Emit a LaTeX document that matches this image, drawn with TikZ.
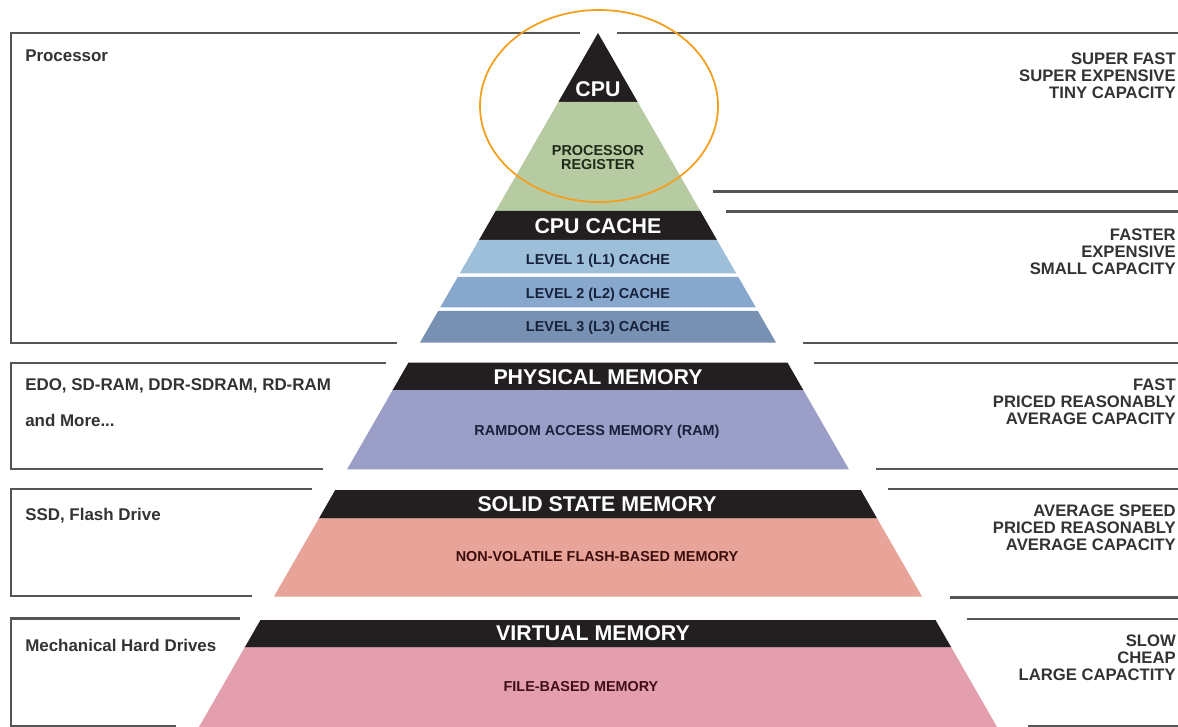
\documentclass[tikz,border=0pt]{standalone}
\usepackage{fontspec}
\setmainfont{Liberation Sans}

% palette of the memory hierarchy
\definecolor{bandblack}{HTML}{231F20}
\definecolor{regreen}{HTML}{B7CBA3}
\definecolor{lone}{HTML}{9EBFDA}
\definecolor{ltwo}{HTML}{87A7CC}
\definecolor{lthree}{HTML}{7890B2}
\definecolor{ramblue}{HTML}{9B9EC7}
\definecolor{ssdpink}{HTML}{E8A498}
\definecolor{vmpink}{HTML}{E49FAE}
\definecolor{linegray}{HTML}{555555}
\definecolor{sidegray}{HTML}{333333}
\definecolor{greentext}{HTML}{1C2B17}
\definecolor{navytext}{HTML}{16213B}
\definecolor{redtext}{HTML}{3B0D0D}
\definecolor{maroontext}{HTML}{3F0E18}
\definecolor{ringorange}{RGB}{245,158,27}

% one horizontal slice of the pyramid: top y, bottom y, fill colour
\newcommand{\pyrband}[3]{%
  \pgfmathsetmacro{\halfa}{0.575*(#1-33)}%
  \pgfmathsetmacro{\halfb}{0.575*(#2-33)}%
  \fill[#3] ({598-\halfa},#1) -- ({598+\halfa},#1) -- ({598+\halfb},#2) -- ({598-\halfb},#2) -- cycle;}

\begin{document}
\begin{tikzpicture}[x=0.75pt,y=-0.75pt,
  rule/.style={draw=linegray,line width=1.6pt},
  bandtitle/.style={text=white,font=\bfseries\fontsize{16}{18}\selectfont,inner sep=0pt,text depth=0pt},
  tiertext/.style={font=\bfseries\fontsize{10.8}{10.5}\selectfont,inner sep=0pt,text depth=0pt,align=center},
  sidenote/.style={text=sidegray,font=\bfseries\fontsize{12.7}{14}\selectfont,inner sep=0pt,anchor=west,text depth=0pt},
  traits/.style={text=sidegray,font=\bfseries\fontsize{12.5}{12.75}\selectfont,inner sep=0pt,anchor=east,align=right}]

\useasboundingbox (0,0) rectangle (1178,727);
\fill[white] (0,0) rectangle (1178,727);

% pyramid slices
\pyrband{33}{102.5}{bandblack}
\pyrband{102}{211.5}{regreen}
\pyrband{211}{240.5}{bandblack}
\pyrband{240}{273.5}{lone}
\pyrband{277}{307.5}{ltwo}
\pyrband{311}{342.7}{lthree}
\pyrband{362.7}{390.5}{bandblack}
\pyrband{390}{469.3}{ramblue}
\pyrband{490}{518.6}{bandblack}
\pyrband{518.3}{596.7}{ssdpink}
\pyrband{620}{647.6}{bandblack}
\pyrband{647.3}{730}{vmpink}

% bracket frames on the left
\draw[rule] (580,33) -- (11,33) -- (11,342.7) -- (397,342.7);
\draw[rule] (386,362.7) -- (11,362.7) -- (11,469.3) -- (323,469.3);
\draw[rule] (312,489.3) -- (11,489.3) -- (11,596) -- (252,596);
\draw[rule] (240,618.5) -- (11,618.5) -- (11,728);
\draw[rule] (11,726) -- (176,726);

% rules on the right
\draw[rule] (617,33) -- (1180,33);
\draw[rule] (713,191.5) -- (1180,191.5);
\draw[rule] (726,211.5) -- (1180,211.5);
\draw[rule] (803,342.7) -- (1180,342.7);
\draw[rule] (814,362.7) -- (1180,362.7);
\draw[rule] (876,469.3) -- (1180,469.3);
\draw[rule] (888,489.3) -- (1180,489.3);
\draw[rule] (950,597.5) -- (1180,597.5);
\draw[rule] (967,619.3) -- (1180,619.3);
\draw[rule] (1028,726) -- (1180,726);

% pyramid labels
\node[bandtitle] (cpu) at (598,89) {CPU};
\node[tiertext,text=greentext] (reg) at (598,157) {PROCESSOR\\REGISTER};
\node[bandtitle] (cache) at (598,226) {CPU CACHE};
\node[tiertext,text=navytext] (l1) at (598,259) {LEVEL 1 (L1) CACHE};
\node[tiertext,text=navytext] (l2) at (598,293) {LEVEL 2 (L2) CACHE};
\node[tiertext,text=navytext] (l3) at (598,326) {LEVEL 3 (L3) CACHE};
\node[bandtitle] (phys) at (598,377) {PHYSICAL MEMORY};
\node[tiertext,text=navytext] (ram) at (597,430) {RAMDOM ACCESS MEMORY (RAM)};
\node[bandtitle] (ssd) at (597,504) {SOLID STATE MEMORY};
\node[tiertext,text=redtext] (flash) at (597,556) {NON-VOLATILE FLASH-BASED MEMORY};
\node[bandtitle] (virt) at (593,633) {VIRTUAL MEMORY};
\node[tiertext,text=maroontext] (file) at (581,686) {FILE-BASED MEMORY};

% examples on the left
\node[sidenote] (proc) at (25,56) {Processor};
\node[sidenote] (edo) at (25,384.5) {EDO, SD-RAM, DDR-SDRAM, RD-RAM};
\node[sidenote] (more) at (25,420) {and More...};
\node[sidenote] (flashdrv) at (25,514) {SSD, Flash Drive};
\node[sidenote] (hdd) at (25,645.5) {Mechanical Hard Drives};

% characteristics on the right
\node[traits] (t1) at (1176,76) {SUPER FAST\\SUPER EXPENSIVE\\TINY CAPACITY};
\node[traits] (t2) at (1176,252) {FASTER\\EXPENSIVE\\SMALL CAPACITY};
\node[traits] (t3) at (1176,401.5) {FAST\\PRICED REASONABLY\\AVERAGE CAPACITY};
\node[traits] (t4) at (1176,528) {AVERAGE SPEED\\PRICED REASONABLY\\AVERAGE CAPACITY};
\node[traits] (t5) at (1176,658) {SLOW\\CHEAP\\LARGE CAPACTITY};

% highlight ring round the top of the pyramid
\draw[ringorange,line width=1.3pt] (599,106) ellipse [x radius=89.25pt, y radius=72pt];
\end{tikzpicture}
\end{document}
